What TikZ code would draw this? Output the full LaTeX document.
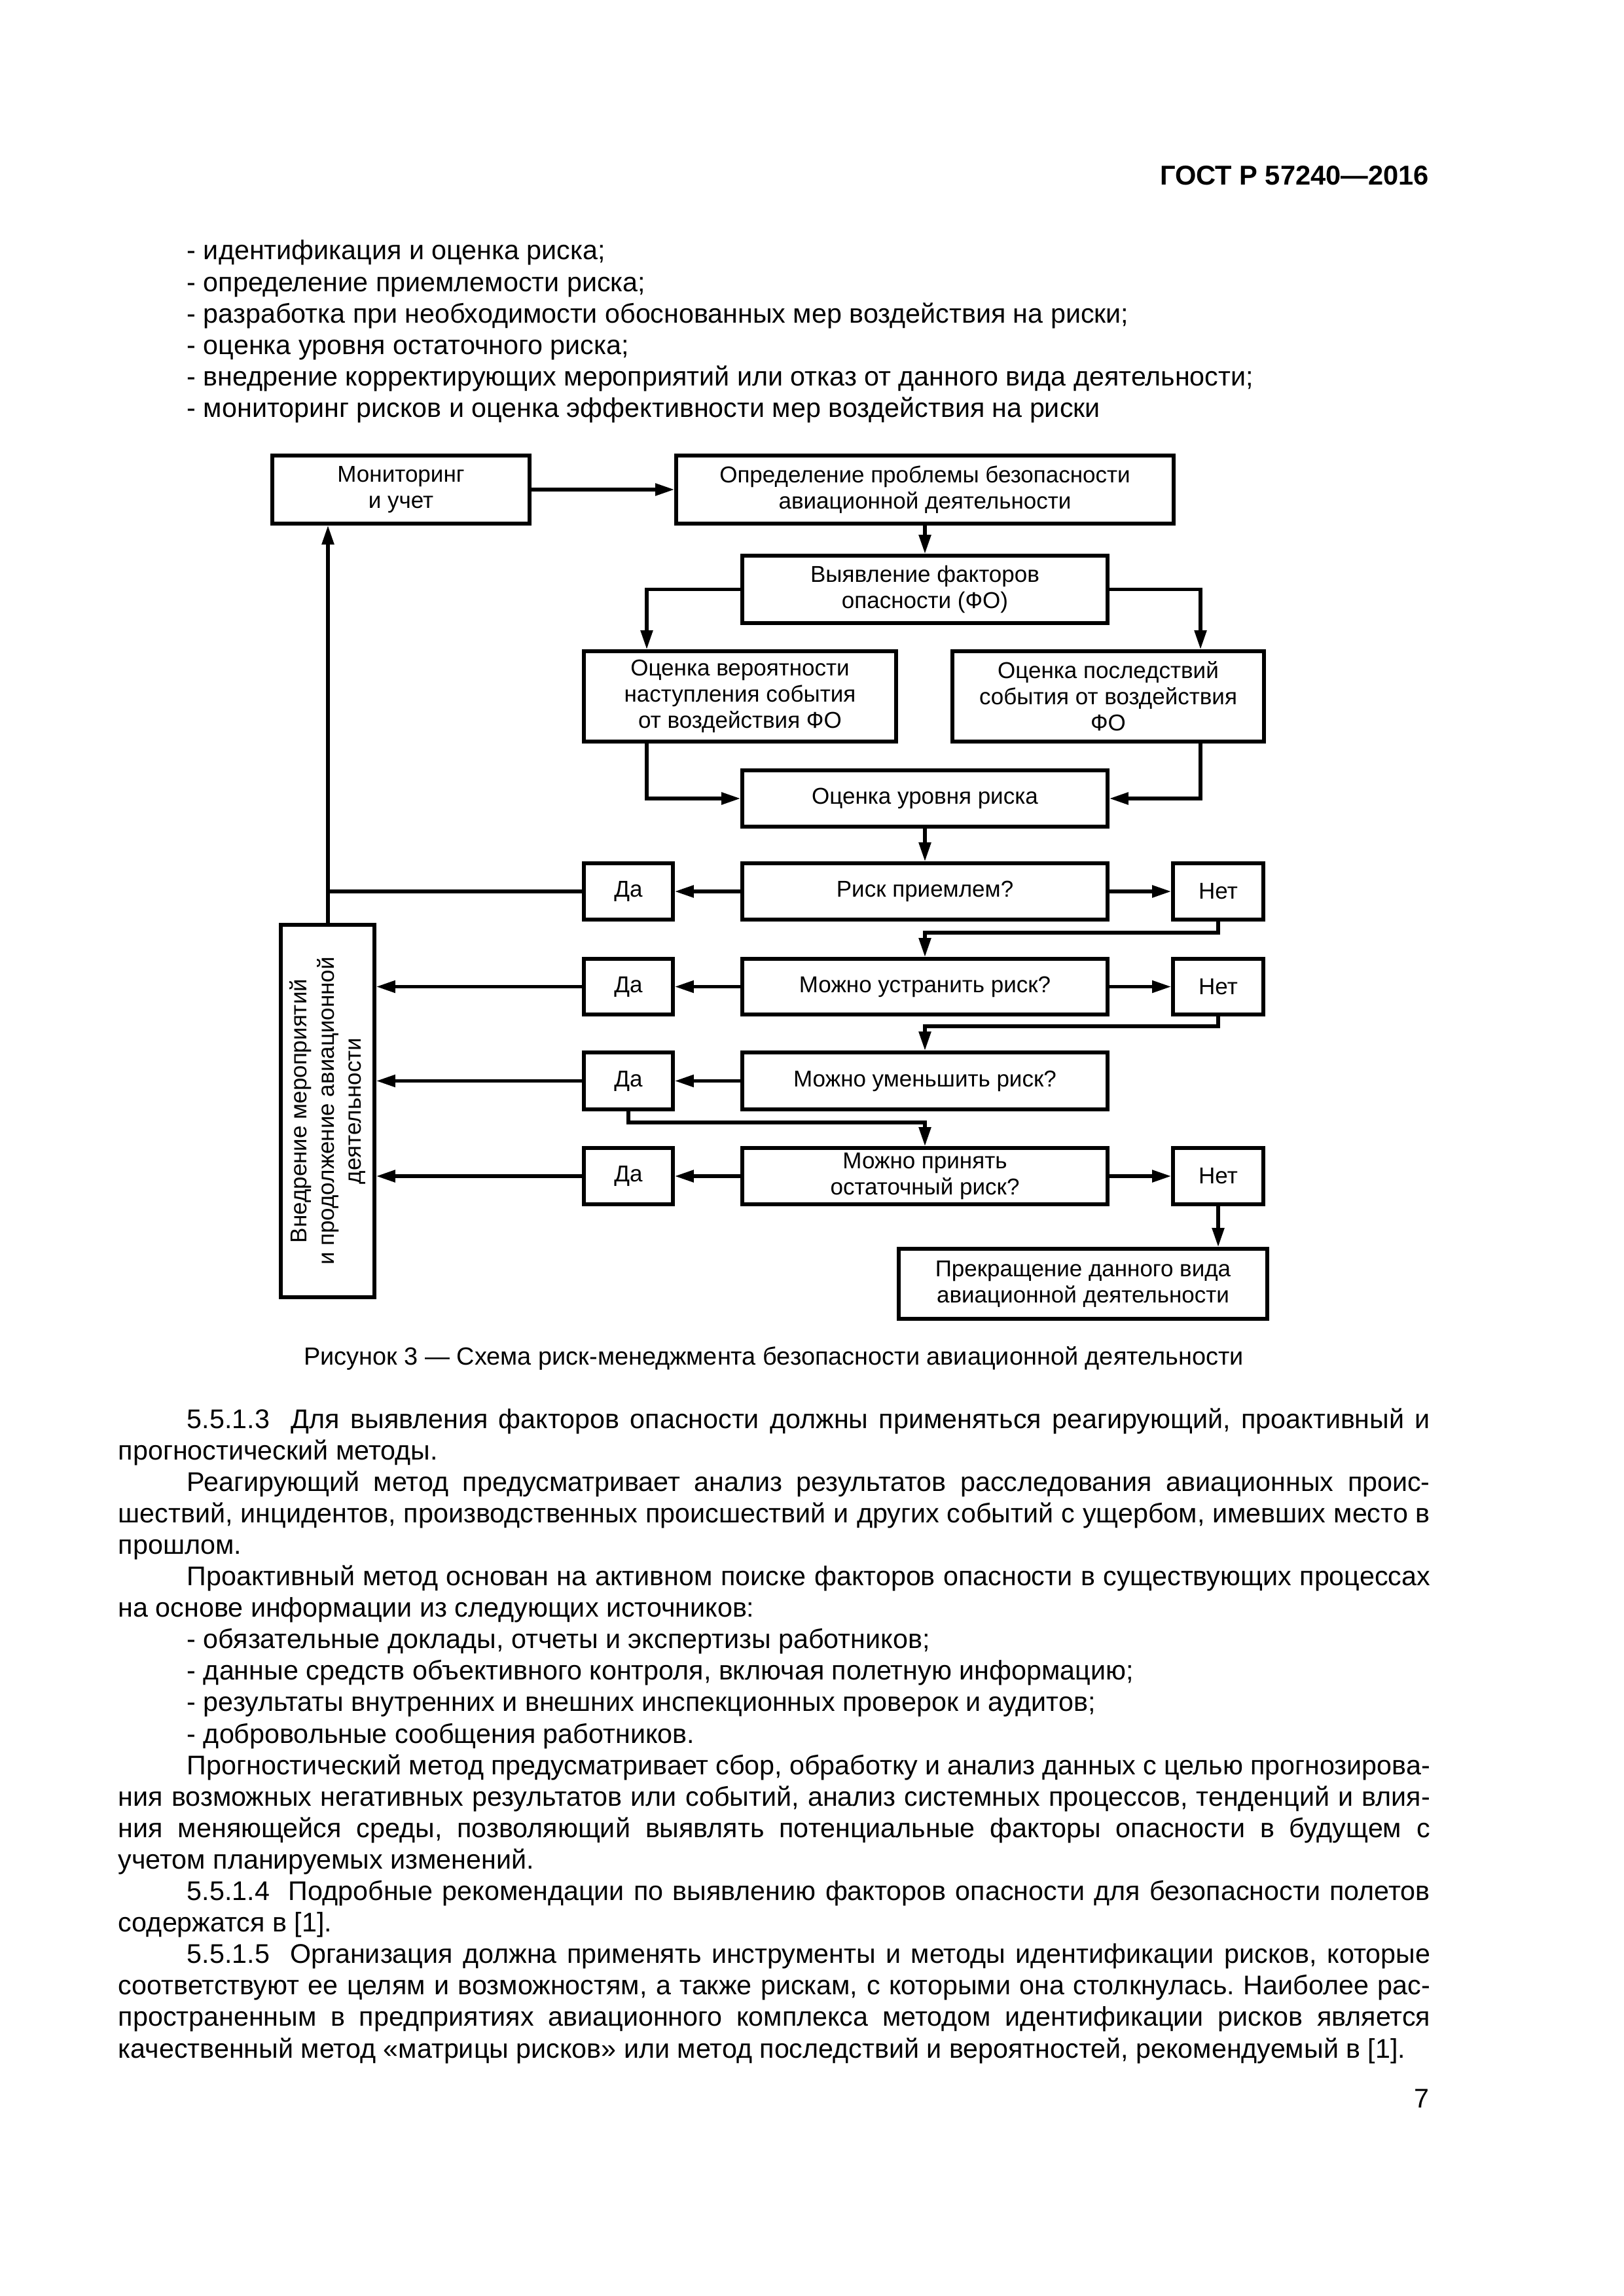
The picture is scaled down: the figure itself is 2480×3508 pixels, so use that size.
\documentclass[tikz,border=0pt]{standalone}
\usepackage{fontspec}
\setmainfont{Liberation Sans}
\usetikzlibrary{arrows.meta,calc}
\frenchspacing
\newcommand\mybox[6]{\node (#1) [box, minimum width={(#4-#2)*0.24pt}, minimum height={(#5-#3)*0.24pt}] at ({(#2+#4)/2},{(#3+#5)/2}) {#6};}
\begin{document}
\begin{tikzpicture}[x=0.24pt,y=-0.24pt,
  box/.style={draw, line width=1.3pt, inner sep=0pt, align=center, font=\fontsize{8.4}{9.6}\selectfont},
  vtext/.style={rotate=90, align=center, inner sep=0pt, font=\fontsize{8.4}{10}\selectfont},
  arr/.style={line width=1.3pt, -{Triangle[length=7pt,width=4.3pt]}},
  ln/.style={line width=1.3pt},
  body/.style={anchor=base west, inner sep=0pt, font=\fontsize{9.9}{11.6}\selectfont},
  rbody/.style={anchor=base east, inner sep=0pt, font=\fontsize{9.9}{11.6}\selectfont},
]
\fill[white] (0,0) rectangle (2480,3508);
\useasboundingbox (0,0) rectangle (2480,3508);

% header
\node[rbody, font=\fontsize{10}{11.6}\selectfont\bfseries] (hdr) at (2184,283) {ГОСТ Р 57240—2016};

% top list
\node[body] (b1) at (285,397) {- идентификация и оценка риска;};
\node[body] (b2) at (285,445.2) {- определение приемлемости риска;};
\node[body] (b3) at (285,493.4) {- разработка при необходимости обоснованных мер воздействия на риски;};
\node[body] (b4) at (285,541.6) {- оценка уровня остаточного риска;};
\node[body] (b5) at (285,589.8) {- внедрение корректирующих мероприятий или отказ от данного вида деятельности;};
\node[body] (b6) at (285,638) {- мониторинг рисков и оценка эффективности мер воздействия на риски};

% diagram boxes
\mybox{mon}{416}{696}{809}{800}{Мониторинг\\и учет}
\mybox{opr}{1033}{696}{1793}{800}{Определение проблемы безопасности\\авиационной деятельности}
\mybox{vyy}{1134}{849}{1692}{952}{Выявление факторов\\опасности (ФО)}
\mybox{ocv}{892}{995}{1369}{1133}{Оценка вероятности\\наступления события\\от воздействия ФО}
\mybox{ocp}{1455}{995}{1931}{1133}{Оценка последствий\\события от воздействия\\ФО}
\mybox{our}{1134}{1177}{1692}{1263}{Оценка уровня риска}

\mybox{da1}{892}{1319}{1028}{1405}{Да}
\mybox{q1}{1134}{1319}{1692}{1405}{Риск приемлем?}
\mybox{net1}{1792}{1319}{1930}{1405}{Нет}

\mybox{da2}{892}{1465}{1028}{1550}{Да}
\mybox{q2}{1134}{1465}{1692}{1550}{Можно устранить риск?}
\mybox{net2}{1792}{1465}{1930}{1550}{Нет}

\mybox{da3}{892}{1608}{1028}{1695}{Да}
\mybox{q3}{1134}{1608}{1692}{1695}{Можно уменьшить риск?}

\mybox{da4}{892}{1754}{1028}{1840}{Да}
\mybox{q4}{1134}{1754}{1692}{1840}{Можно принять\\остаточный риск?}
\mybox{net4}{1792}{1754}{1930}{1840}{Нет}

\mybox{stop}{1373}{1908}{1936}{2015}{Прекращение данного вида\\авиационной деятельности}

\mybox{vnd}{429}{1413}{572}{1982}{}
\node (vndt) [vtext] at (vnd.center) {Внедрение мероприятий\\и продолжение авиационной\\деятельности};

% helper coordinates
\coordinate (cL) at (988,0);
\coordinate (cR) at (1834,0);
\coordinate (cV) at (501,0);
\coordinate (j1) at (1413,1425);
\coordinate (j2) at (1413,1568);
\coordinate (j3) at (1413,1715);

% connectors
\draw[arr] (mon) -- (opr);
\draw[arr] (opr) -- (vyy);
\draw[arr] (vyy.west) -| (cL |- ocv.north);
\draw[arr] (vyy.east) -| (cR |- ocp.north);
\draw[arr] (cL |- ocv.south) |- (our.west);
\draw[arr] (cR |- ocp.south) |- (our.east);
\draw[arr] (our) -- (q1);
\draw[arr] (q1) -- (da1);
\draw[arr] (q1) -- (net1);
\draw[ln] (da1.west) -- (cV |- da1.west);
\draw[arr] (cV |- vnd.north) -- (cV |- mon.south);
\draw[arr] (net1.south) |- (j1) -- (q2.north);
\draw[arr] (q2) -- (da2);
\draw[arr] (q2) -- (net2);
\draw[arr] (da2) -- (vnd.east |- da2);
\draw[arr] (net2.south) |- (j2) -- (q3.north);
\draw[arr] (q3) -- (da3);
\draw[arr] (da3) -- (vnd.east |- da3);
\draw[arr] (da3.south) |- (j3) -- (q4.north);
\draw[arr] (q4) -- (da4);
\draw[arr] (da4) -- (vnd.east |- da4);
\draw[arr] (q4) -- (net4);
\draw[arr] (net4.south) -- (net4.south |- stop.north);

% caption
\node[anchor=base, inner sep=0pt, font=\fontsize{9.1}{11}\selectfont] (cap) at (1182,2085) {Рисунок 3 — Схема риск-менеджмента безопасности авиационной деятельности};

% body text
\node[body] (l1) at (285,2182) {\makebox[455.76pt][s]{5.5.1.3\ \ Для выявления факторов опасности должны применяться реагирующий, проактивный и}};
\node[body] (l2) at (180,2230.1) {прогностический методы.};
\node[body] (l3) at (285,2278.2) {\makebox[455.76pt][s]{Реагирующий метод предусматривает анализ результатов расследования авиационных проис-}};
\node[body] (l4) at (180,2326.3) {\makebox[480.96pt][s]{шествий, инцидентов, производственных происшествий и других событий с ущербом, имевших место в}};
\node[body] (l5) at (180,2374.4) {прошлом.};
\node[body] (l6) at (285,2422.5) {\makebox[455.76pt][s]{Проактивный метод основан на активном поиске факторов опасности в существующих процессах}};
\node[body] (l7) at (180,2470.6) {на основе информации из следующих источников:};
\node[body] (l8) at (285,2518.7) {- обязательные доклады, отчеты и экспертизы работников;};
\node[body] (l9) at (285,2566.8) {- данные средств объективного контроля, включая полетную информацию;};
\node[body] (l10) at (285,2614.9) {- результаты внутренних и внешних инспекционных проверок и аудитов;};
\node[body] (l11) at (285,2663) {- добровольные сообщения работников.};
\node[body] (l12) at (285,2711.1) {\makebox[455.76pt][s]{Прогностический метод предусматривает сбор, обработку и анализ данных с целью прогнозирова-}};
\node[body] (l13) at (180,2759.2) {\makebox[480.96pt][s]{ния возможных негативных результатов или событий, анализ системных процессов, тенденций и влия-}};
\node[body] (l14) at (180,2807.3) {\makebox[480.96pt][s]{ния меняющейся среды, позволяющий выявлять потенциальные факторы опасности в будущем с}};
\node[body] (l15) at (180,2855.4) {учетом планируемых изменений.};
\node[body] (l16) at (285,2903.5) {\makebox[455.76pt][s]{5.5.1.4\ \ Подробные рекомендации по выявлению факторов опасности для безопасности полетов}};
\node[body] (l17) at (180,2951.6) {содержатся в [1].};
\node[body] (l18) at (285,2999.7) {\makebox[455.76pt][s]{5.5.1.5\ \ Организация должна применять инструменты и методы идентификации рисков, которые}};
\node[body] (l19) at (180,3047.8) {\makebox[480.96pt][s]{соответствуют ее целям и возможностям, а также рискам, с которыми она столкнулась. Наиболее рас-}};
\node[body] (l20) at (180,3095.9) {\makebox[480.96pt][s]{пространенным в предприятиях авиационного комплекса методом идентификации рисков является}};
\node[body] (l21) at (180,3144) {качественный метод «матрицы рисков» или метод последствий и вероятностей, рекомендуемый в [1].};

% page number
\node[rbody] (pg) at (2184,3220) {7};
\end{tikzpicture}
\end{document}
